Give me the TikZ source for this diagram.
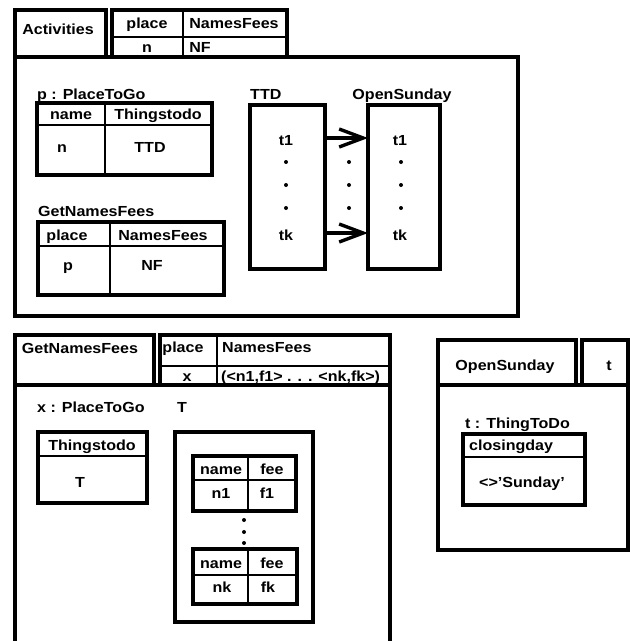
\documentclass[tikz,border=0pt]{standalone}
\usepackage{fontspec}
\setmainfont{Liberation Sans}[FakeStretch=1.1]
\usetikzlibrary{arrows.meta}
\begin{document}
\begin{tikzpicture}[x=1pt,y=-1pt,
  thickline/.style={line width=3.2pt},
  thinline/.style={line width=2.3pt},
  lbl/.style={inner sep=0pt, anchor=base, font=\fontsize{14.6}{16}\selectfont\bfseries},
  lblw/.style={lbl, anchor=base west},
  dotn/.style={circle, fill, inner sep=0pt, minimum size=4pt},
  arr/.style={line width=3.4pt, -{Straight Barb[length=24pt,width=18pt,line width=3.4pt]}},
  box/.style={draw, line width=3.2pt, inner sep=0pt, outer sep=0pt, anchor=north west}
]
\useasboundingbox (0,0) rectangle (630,641);

% ---------- top: Activities ----------
\draw[thickline] (15,10) rectangle (106,57);
\draw[thickline] (112,10) rectangle (287,57);
\draw[thinline] (112,37) -- (287,37);
\draw[thinline] (183,10) -- (183,57);
\node[lbl] (act) at (58,34) {Activities};
\node[lbl] (hplace) at (147,28) {place};
\node[lbl] (hnf) at (234,28) {NamesFees};
\node[lbl] (hn) at (147,52) {n};
\node[lbl] (hNF) at (200,52) {NF};
\draw[thickline] (15,57) rectangle (518,316);

% p : PlaceToGo
\node[lblw] (pl) at (37,99) {p : PlaceToGo};
\draw[thickline] (37,103) rectangle (212,175);
\draw[thinline] (37,125) -- (212,125);
\draw[thinline] (105,103) -- (105,175);
\node[lbl] (pname) at (71,119) {name};
\node[lbl] (pttd) at (158,119) {Thingstodo};
\node[lbl] (pn) at (62,152) {n};
\node[lbl] (pTTD) at (150,152) {TTD};

% GetNamesFees call
\node[lblw] (gl) at (38,216) {GetNamesFees};
\draw[thickline] (38,222) rectangle (224,295);
\draw[thinline] (38,246) -- (224,246);
\draw[thinline] (110,222) -- (110,295);
\node[lbl] (gplace) at (67,240) {place};
\node[lbl] (gnf) at (163,240) {NamesFees};
\node[lbl] (gp) at (68,270) {p};
\node[lbl] (gNF) at (152,270) {NF};

% TTD and OpenSunday
\node[lblw] (ttdl) at (250,99) {TTD};
\node[box, minimum width=75pt, minimum height=164pt] (ttdbox) at (250,105) {};
\node[lbl] (osl) at (402,99) {OpenSunday};
\node[box, minimum width=72pt, minimum height=164pt] (osbox) at (368,105) {};
\node[lbl] (tt1) at (286,145) {t1};
\node[dotn] (td1) at (286,162) {};
\node[dotn] (td2) at (286,185) {};
\node[dotn] (td3) at (286,208) {};
\node[lbl] (ttk) at (286,240) {tk};
\node[lbl] (ot1) at (400,145) {t1};
\node[dotn] (od1) at (401,162) {};
\node[dotn] (od2) at (401,185) {};
\node[dotn] (od3) at (401,208) {};
\node[lbl] (otk) at (400,240) {tk};
\node[dotn] (md1) at (349,162) {};
\node[dotn] (md2) at (349,185) {};
\node[dotn] (md3) at (349,208) {};
\coordinate (r1) at (0,138);
\coordinate (r2) at (0,233);
\draw[arr] (ttdbox.east |- r1) -- (osbox.west |- r1);
\draw[arr] (ttdbox.east |- r2) -- (osbox.west |- r2);

% ---------- bottom left: GetNamesFees ----------
\draw[thickline] (15,335) rectangle (154,385);
\draw[thickline] (160,335) rectangle (390,385);
\draw[thinline] (160,366) -- (390,366);
\draw[thinline] (217,335) -- (217,385);
\node[lbl] (bgnf) at (80,353) {GetNamesFees};
\node[lbl] (bplace) at (183,352) {place};
\node[lblw] (bnf) at (222,352) {NamesFees};
\node[lbl] (bx) at (187,381) {x};
\node[lblw] (blist) at (221,381) {(<n1,f1> . . . <nk,fk>)};
\draw[thickline] (15,641) -- (15,385) -- (390,385) -- (390,641);

\node[lblw] (xl) at (37,412) {x : PlaceToGo};
\draw[thickline] (38,432) rectangle (147,503);
\draw[thinline] (38,456) -- (147,456);
\node[lbl] (xtd) at (92,450) {Thingstodo};
\node[lbl] (xT) at (80,487) {T};

\node[lblw] (Tl) at (177,412) {T};
\draw[thickline] (175,432) rectangle (313,622);
\draw[thickline] (193,456) rectangle (296,511);
\draw[thinline] (193,480) -- (296,480);
\draw[thinline] (248,456) -- (248,511);
\node[lbl] (n1h) at (221,474) {name};
\node[lbl] (f1h) at (272,474) {fee};
\node[lbl] (n1) at (221,498) {n1};
\node[lbl] (f1) at (267,498) {f1};
\node[dotn] (bd1) at (244,520) {};
\node[dotn] (bd2) at (244,532) {};
\node[dotn] (bd3) at (244,543) {};
\draw[thickline] (193,549) rectangle (297,604);
\draw[thinline] (193,575) -- (297,575);
\draw[thinline] (248,549) -- (248,604);
\node[lbl] (nkh) at (221,568) {name};
\node[lbl] (fkh) at (272,568) {fee};
\node[lbl] (nk) at (222,592) {nk};
\node[lbl] (fk) at (268,592) {fk};

% ---------- bottom right: OpenSunday ----------
\draw[thickline] (438,340) rectangle (576,385);
\draw[thickline] (582,340) rectangle (628,385);
\draw[thickline] (438,385) rectangle (628,550);
\node[lbl] (osh) at (505,370) {OpenSunday};
\node[lbl] (ost) at (609,370) {t};
\node[lblw] (ttl) at (465,428) {t : ThingToDo};
\draw[thickline] (463,434) rectangle (585,505);
\draw[thinline] (463,457) -- (585,457);
\node[lblw] (cday) at (469,450) {closingday};
\node[lbl] (sun) at (522,487) {<>'Sunday'};
\end{tikzpicture}
\end{document}
